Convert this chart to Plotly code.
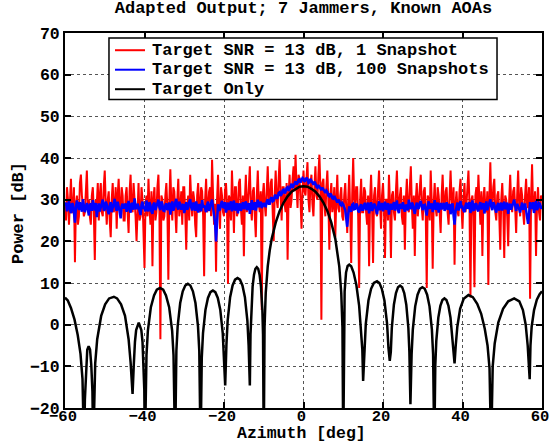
import numpy as np
import plotly.graph_objects as go

# ---------------- data ----------------
# azimuth grid: samples every 0.25 deg from -60 to 60 (481 samples)
AZ_START, AZ_END, AZ_N = -60.0, 60.0, 481
azimuth = np.linspace(AZ_START, AZ_END, AZ_N)

# red (1 snapshot): values on the half-degree samples (-60, -59.5, ... 60)
red_half = [
    29, 33, 24, 35, 27, 15, 31, 26, 36, 28,
    27, 37, 30, 24, 33, 15.5, 29, 25, 34, 26,
    37, 24, 32, 21, 34, 28, 23, 35, 26, 31,
    25, 33, 22, 36, 27, 31, 20, 34, 26, 30,
    13.6, 31, 35, 24, 14, 33, 27, 36, -3.5, 30,
    26, 34, 10.8, 37.3, 25, 32, 22, 35, 28, 24,
    33, 18, 31, 36, 26, 30, 21, 34, 27, 32,
    11.6, 35, 28, 33, 39.6, 24, 12.7, 36, 23, 31,
    26, 34, 9.8, 30, 37, 22, 33, 27, 35, 24,
    16.4, 36, 29, 38, 25, 33, 21, 37, 27, 3.5,
    34, 26, 38, 29, 35, 20, 37, 28, 39.6, 25,
    33, 27, 15.6, 36, 30, 38, 40.8, 28, 35, 23,
    37, 31, 39, 27, 36, 26, 38, 30, 40.8, 1.2,
    35, 26, 37, 18, 34, 29, 21, 36, 27, 33,
    25, 34, 22, 36, 14.8, 40, 28, 33, 8.8, 35,
    27, 32, 24, 14, 36, 14.8, 33, 26, 37, 23,
    34, 16, 30, 36, 16, 32, 25, 37, 28, 33,
    24, 18, 35, 27, 38, 23, 16.5, 34, 29, 36,
    25, 33, 8.8, 30, 37, 13.4, 34, 26, 31, 22,
    36, 28, 33, 24, 37, 27, 14.4, 32, 26, 35,
    23, 34, 29, 37, 6.5, 31, 9, 33, 36, 24,
    16.5, 33, 27, 9.5, 39, 28, 35, 25, 32, 18,
    34, 16, 30, 18.8, 36, 27, 33, 22, 37, 26,
    31, 24, 35, 28, 6.2, 38.5, 27, 16.5, 33, 25,
    30,
]
# red (1 snapshot): values on the quarter-degree offsets (-59.75, -59.25, ... 59.75)
red_quarter = [
    25, 30, 32, 27, 33, 29, 24, 34, 31, 26,
    32, 28, 26, 31, 27, 30, 34, 31, 27, 33,
    29, 30, 25, 30, 27, 33, 31, 28, 33, 25,
    31, 27, 32, 28, 34, 26, 29, 25, 33, 22,
    29, 26, 28, 32, 30, 25, 33, 27, 31, 25,
    31, 28, 30, 29, 33, 27, 30, 26, 32, 33,
    27, 29, 25, 30, 32, 24, 31, 28, 33, 26,
    30, 27, 32, 26, 31, 29, 30, 28, 33, 27,
    32, 29, 31, 25, 30, 33, 26, 34, 28, 31,
    30, 27, 33, 28, 32, 26, 31, 29, 32, 31,
    29, 32, 30, 34, 27, 31, 30, 35, 31, 33,
    29, 34, 31, 28, 35, 32, 33, 36, 30, 32,
    32, 35, 30, 34, 29, 33, 31, 36, 33, 34,
    29, 33, 30, 31, 27, 33, 30, 28, 31, 26,
    31, 28, 30, 27, 31, 30, 33, 26, 30, 27,
    33, 27, 31, 30, 28, 31, 27, 32, 29, 31,
    28, 30, 25, 29, 31, 27, 32, 29, 31, 26,
    31, 30, 28, 33, 29, 31, 30, 26, 32, 28,
    32, 27, 31, 25, 30, 29, 28, 33, 27, 31,
    29, 32, 27, 31, 30, 33, 29, 27, 32, 28,
    30, 27, 33, 29, 30, 26, 31, 28, 30, 32,
    30, 28, 32, 30, 29, 33, 27, 31, 26, 30,
    28, 31, 26, 30, 29, 32, 28, 31, 29, 33,
    27, 31, 29, 33, 30, 28, 32, 29, 27, 31,
]

# blue (100 snapshots): half-degree samples
blue_half = [
    28.5, 27.2, 29.6, 26.8, 28.9, 24.5, 29.8, 27.5, 28.2, 30.1,
    27.0, 29.2, 26.2, 28.8, 29.9, 27.4, 25.8, 29.1, 28.0, 30.0,
    27.6, 28.9, 26.5, 29.4, 28.1, 30.2, 27.3, 28.6, 25.5, 29.0,
    28.3, 27.1, 29.7, 26.9, 28.8, 30.3, 27.7, 28.4, 26.3, 29.5,
    28.0, 29.8, 27.2, 28.7, 26.6, 29.3, 28.2, 30.0, 27.5, 28.9,
    27.3, 29.1, 28.4, 26.4, 29.6, 28.0, 30.2, 27.6, 29.0, 28.3,
    26.8, 29.4, 28.1, 30.1, 27.4, 28.8, 29.6, 26.9, 28.5, 29.9,
    28.6, 27.0, 29.5, 28.2, 30.0, 26.4, 20.0, 28.9, 27.6, 29.7,
    28.1, 26.9, 29.3, 28.4, 27.2, 29.8, 28.0, 26.7, 29.1, 28.5,
    27.7, 29.6, 28.3, 26.6, 29.9, 28.2, 27.4, 30.0, 28.8, 28.0,
    29.2, 28.4, 30.1, 29.0, 30.6, 29.8, 31.2, 30.5, 31.8, 31.3,
    32.4, 31.9, 33.0, 32.6, 33.8, 33.3, 34.4, 34.0, 34.9, 34.5,
    35.0, 34.6, 34.9, 34.2, 34.5, 33.6, 33.9, 32.9, 33.1, 32.3,
    32.5, 31.6, 31.9, 30.8, 31.1, 30.2, 30.4, 29.3, 29.7, 28.6,
    28.9, 27.5, 23.5, 28.4, 27.1, 29.0, 27.8, 28.6, 26.9, 28.9,
    27.6, 29.2, 28.0, 26.7, 29.4, 27.9, 28.7, 26.5, 29.6, 28.3,
    27.2, 29.5, 28.1, 26.4, 29.0, 28.6, 27.4, 29.8, 26.8, 28.7,
    29.4, 27.1, 28.5, 30.0, 27.7, 28.9, 26.6, 29.3, 28.0, 29.7,
    27.5, 28.8, 26.2, 29.6, 28.3, 27.0, 29.9, 28.1, 26.9, 29.2,
    28.4, 27.3, 29.4, 28.0, 26.5, 29.1, 24.0, 28.6, 27.4, 29.7,
    28.2, 27.0, 29.3, 28.5, 26.8, 29.8, 27.6, 28.9, 27.2, 29.4,
    28.0, 26.7, 29.6, 28.3, 30.1, 27.5, 28.8, 26.9, 29.2, 28.1,
    27.4, 29.5, 28.2, 26.6, 29.0, 28.7, 30.0, 27.3, 28.5, 26.9,
    29.3, 28.0, 27.2, 24.2, 29.4, 28.3, 26.8, 29.7, 28.1, 29.0,
    28.6,
]
# blue (100 snapshots): quarter-degree offsets
blue_quarter = [
    29.3, 28.4, 27.5, 29.1, 26.9, 28.2, 28.6, 29.4, 27.1, 28.0,
    28.3, 27.6, 29.0, 27.3, 28.5, 29.2, 28.0, 27.2, 29.1, 27.4,
    29.5, 27.4, 28.6, 27.0, 29.3, 28.1, 29.5, 27.1, 28.4, 27.9,
    29.1, 28.5, 27.4, 29.2, 27.6, 28.4, 29.0, 27.3, 28.8, 27.8,
    27.2, 28.1, 29.4, 27.1, 28.9, 27.5, 29.3, 28.2, 29.6, 27.4,
    28.7, 27.5, 29.3, 28.6, 27.4, 29.4, 28.3, 29.5, 27.6, 29.0,
    28.4, 27.6, 29.5, 28.2, 29.3, 27.3, 28.1, 28.9, 27.2, 28.1,
    27.9, 28.8, 27.3, 29.4, 28.1, 24.5, 25.8, 27.4, 29.0, 28.2,
    29.4, 28.2, 27.5, 29.6, 28.6, 27.4, 29.2, 28.5, 27.3, 29.4,
    28.6, 27.5, 29.2, 28.3, 27.6, 29.4, 28.7, 28.2, 29.5, 28.9,
    28.5, 29.6, 29.0, 30.3, 29.6, 30.9, 30.2, 31.6, 30.9, 32.2,
    31.5, 32.8, 32.1, 33.5, 32.8, 34.2, 33.6, 34.8, 34.1, 35.2,
    34.3, 35.3, 34.0, 35.0, 33.8, 34.3, 33.1, 33.5, 32.4, 32.9,
    31.8, 32.2, 31.0, 31.5, 30.3, 30.9, 29.5, 30.0, 28.8, 29.2,
    28.1, 25.6, 26.4, 27.6, 28.8, 27.7, 29.1, 27.4, 28.3, 27.6,
    28.8, 27.5, 29.3, 28.4, 27.3, 29.0, 27.6, 28.4, 27.5, 29.2,
    28.6, 27.6, 29.2, 28.2, 27.6, 29.4, 28.6, 27.5, 28.9, 27.8,
    28.0, 28.8, 27.4, 28.6, 29.3, 27.5, 28.3, 27.8, 29.2, 28.4,
    28.7, 27.4, 28.3, 27.8, 29.1, 28.5, 27.6, 29.3, 28.2, 27.7,
    29.2, 28.6, 27.6, 29.0, 28.2, 26.3, 27.2, 29.3, 28.6, 28.0,
    27.4, 28.6, 27.8, 29.4, 28.6, 27.5, 29.1, 27.6, 28.7, 27.9,
    29.2, 28.1, 27.5, 29.0, 28.3, 29.4, 27.7, 28.6, 27.4, 29.3,
    28.6, 27.7, 29.3, 28.4, 27.6, 29.2, 28.1, 29.0, 27.8, 28.6,
    27.6, 29.1, 25.9, 26.5, 27.8, 29.4, 28.3, 27.5, 29.2, 27.8,
]

red_1snap = np.empty(AZ_N)
red_1snap[0::2] = red_half
red_1snap[1::2] = red_quarter
blue_100snap = np.empty(AZ_N)
blue_100snap[0::2] = blue_half
blue_100snap[1::2] = blue_quarter

# black: target-only adapted pattern, read lobe by lobe
target_az = [
    -60, -59.3, -58.5, -57.6, -56.8, -56.1, -55.6, -55.2,
    -55.0, -54.7, -54.4, -54.05, -53.7, -53.4, -53.1, -52.9,
    -52.4, -51.9, -50.9, -49.9, -48.9, -47.7, -46.9, -45.9, -44.9, -44.0, -43.5, -43.0,
    -42.85, -42.7, -42.4, -42.1, -41.45, -40.8, -40.5, -40.2, -40.05, -39.9,
    -39.5, -39.15, -38.4, -37.6, -36.9, -36.1, -35.3, -34.6, -33.8, -33.05, -32.7, -32.3,
    -31.98, -31.66, -31.02, -30.38, -29.74, -29.1, -28.46, -27.82, -27.18, -26.54, -26.22, -25.9,
    -25.59, -25.28, -24.66, -24.04, -23.42, -22.8, -22.18, -21.56, -20.94, -20.32, -20.01, -19.7,
    -19.39, -19.08, -18.46, -17.84, -17.22, -16.6, -15.98, -15.36, -14.74, -14.12, -13.81, -13.5,
    -13.33, -13.15, -12.8, -12.45, -12.1, -11.75, -11.4, -11.05, -10.7, -10.35, -10.18, -10.0,
    -9.8, -9.5, -9, -8.5, -8, -7, -6, -5, -4, -3, -2, -1, 0,
    1, 2, 3, 4, 5, 6, 7, 8, 8.5, 9, 9.5, 9.8, 10.0,
    10.15, 10.35, 10.7, 11.1, 11.5, 12.0, 12.6, 13.3, 14.0, 14.5, 14.8, 15.0,
    15.33, 15.67, 16.34, 17.0, 17.7, 18.5, 19.1, 19.7, 20.36, 21.03, 21.37, 21.7,
    21.96, 22.22, 22.74, 23.26, 23.78, 24.3, 24.82, 25.34, 25.86, 26.38, 26.64, 26.9,
    27.2, 27.5, 28.1, 28.7, 29.3, 29.9, 30.5, 31.1, 31.7, 32.3, 32.6, 32.9,
    33.155, 33.41, 33.92, 34.43, 34.94, 35.45, 35.96, 36.47, 36.98, 37.49, 37.75, 38.0,
    38.3, 38.7, 39.4, 40.3, 41.5, 42.6, 43.7, 44.7, 45.6, 46.3, 46.8, 47.2,
    47.6, 48.1, 49.0, 50.2, 51.5, 53.0, 54.3, 55.2, 55.9, 56.4, 56.9,
    57.1, 57.4, 58.0, 58.7, 59.4, 60,
]
target_db = [
    6.5, 5.8, 4.0, 1.2, -2.5, -7, -13, -30,
    -18, -9.5, -6, -5.2, -6, -9.5, -16, -30,
    -9.3, -3.5, 2.1, 4.9, 6.3, 6.7, 6.3, 4.9, 2.1, -3.5, -9, -16.6,
    -12, -9.7, -4.1, -1.3, 0.5, -1.3, -4.1, -9.7, -15.6, -30,
    -7.3, -1.4, 4.2, 7.0, 8.4, 8.8, 8.4, 7.0, 4.2, -1.4, -7.3, -30,
    -6.3, -0.4, 5.2, 8.0, 9.4, 9.8, 9.4, 8.0, 5.2, -0.4, -6.3, -30,
    -7.9, -2.0, 3.6, 6.4, 7.8, 8.2, 7.8, 6.4, 3.6, -2.0, -7.9, -14.6,
    -4.9, 1.0, 6.6, 9.4, 10.8, 11.2, 10.8, 9.4, 6.6, 1.0, -4.9, -14.6,
    -2.3, 3.6, 9.2, 12.0, 13.4, 13.8, 13.4, 12.0, 9.2, 3.6, -2.3, -30,
    -0.6, 7.6, 14.0, 17.8, 20.6, 24.5, 27.3, 29.3, 30.8, 31.9, 32.6, 33.1, 33.2,
    33.1, 32.6, 31.9, 30.8, 29.3, 27.3, 24.5, 20.6, 17.8, 14.0, 7.6, -0.6, -30,
    0, 8, 12.5, 14.1, 14.4, 14.0, 12.5, 9.5, 4.5, -1, -6, -13.5,
    -5.6, 0.2, 5.8, 8.6, 10.0, 10.4, 10.0, 8.6, 5.8, 0.2, -5.6, -8.7,
    -6.6, -0.8, 4.8, 7.6, 9.0, 9.4, 9.0, 7.6, 4.8, -0.8, -6.6, -19.1,
    -7.0, -1.2, 4.4, 7.2, 8.6, 9.0, 8.6, 7.2, 4.4, -1.2, -7.0, -30,
    -9.8, -3.9, 1.7, 4.5, 5.9, 6.3, 5.9, 4.5, 1.7, -3.9, -7.5, -9.3,
    -5, -0.5, 3.8, 6.2, 7.1, 6.6, 5.0, 2.6, -1.0, -5, -10.5, -30,
    -10, -4.5, 0.5, 3.8, 5.6, 6.3, 5.6, 3.5, 0, -5, -13.1,
    -5, -0.5, 3.5, 6.0, 7.3, 8.0,
]

series_names = [
    "Target SNR = 13 dB, 1 Snapshot",
    "Target SNR = 13 dB, 100 Snapshots",
    "Target Only",
]
series_colors = ["#ff0000", "#0000ff", "#000000"]
x_ticks = [-60, -40, -20, 0, 20, 40, 60]
y_ticks = [-20, -10, 0, 10, 20, 30, 40, 50, 60, 70]

FONT = "Liberation Mono"
FS = 17
TICK_FS = 16.5
XTICK_FS = 15.5

fig = go.Figure()
fig.add_trace(go.Scatter(x=azimuth, y=red_1snap, mode="lines", name=series_names[0],
                         line=dict(color=series_colors[0], width=2)))
fig.add_trace(go.Scatter(x=azimuth, y=blue_100snap, mode="lines", name=series_names[1],
                         line=dict(color=series_colors[1], width=2.5)))
fig.add_trace(go.Scatter(x=target_az, y=target_db, mode="lines", name=series_names[2],
                         line=dict(color=series_colors[2], width=2.5)))

axis_common = dict(
    showline=True, linecolor="black", linewidth=2, mirror="ticks",
    ticks="inside", ticklen=6, tickwidth=1.5, tickcolor="black",
    showgrid=True, gridcolor="#555555", gridwidth=1, griddash="dot",
    zeroline=False, automargin=False,
)

# legend drawn as a MATLAB-style box (paper coordinates)
LEG_X0, LEG_X1, LEG_Y0, LEG_Y1 = 0.0922, 0.9057, 0.8227, 0.9867
LEG_LINE_X0, LEG_LINE_X1, LEG_TEXT_X = 0.1048, 0.1677, 0.1797
LEG_ROWS = [0.9541, 0.9021, 0.8501]

shapes = [dict(type="rect", xref="paper", yref="paper", x0=LEG_X0, x1=LEG_X1,
               y0=LEG_Y0, y1=LEG_Y1, fillcolor="white",
               line=dict(color="black", width=1.5), layer="above")]
annotations = []
for name, col, yy in zip(series_names, series_colors, LEG_ROWS):
    shapes.append(dict(type="line", xref="paper", yref="paper", x0=LEG_LINE_X0,
                       x1=LEG_LINE_X1, y0=yy, y1=yy,
                       line=dict(color=col, width=2), layer="above"))
    annotations.append(dict(xref="paper", yref="paper", x=LEG_TEXT_X, y=yy,
                            xanchor="left", yanchor="middle", showarrow=False,
                            borderpad=0, text="<b>%s</b>" % name,
                            font=dict(family=FONT, size=FS, color="black")))

# axis titles
annotations.append(dict(xref="paper", yref="paper", x=0.496, y=-0.096,
                        xanchor="center", yanchor="bottom", showarrow=False,
                        borderpad=0, text="<b>Azimuth [deg]</b>",
                        font=dict(family=FONT, size=16.5, color="black")))
annotations.append(dict(xref="paper", yref="paper", x=-0.0985, y=0.52,
                        xanchor="center", yanchor="middle", showarrow=False,
                        borderpad=0, textangle=-90, text="<b>Power [dB]</b>",
                        font=dict(family=FONT, size=FS, color="black")))

fig.update_layout(
    width=550, height=444,
    margin=dict(l=65, r=8, t=33, b=36),
    paper_bgcolor="white", plot_bgcolor="white",
    font=dict(family=FONT, size=FS, color="black", weight="bold"),
    title=dict(text="<b>Adapted Output; 7 Jammers, Known AOAs</b>",
               x=0.5, xref="paper", y=0.997, yref="container", yanchor="top",
               font=dict(family=FONT, size=FS, color="black")),
    xaxis=dict(range=[-60, 60], tickvals=x_ticks, ticklabeloverflow="allow",
               ticklabelstandoff=-8, ticklabelshift=-2,
               tickfont=dict(family=FONT, size=XTICK_FS, color="black", weight="bold"),
               **axis_common),
    yaxis=dict(range=[-20, 70], tickvals=y_ticks,
               tickfont=dict(family=FONT, size=TICK_FS, color="black", weight="bold"),
               **axis_common),
    shapes=shapes,
    annotations=annotations,
    showlegend=False,
)

fig.write_html("out.html")
